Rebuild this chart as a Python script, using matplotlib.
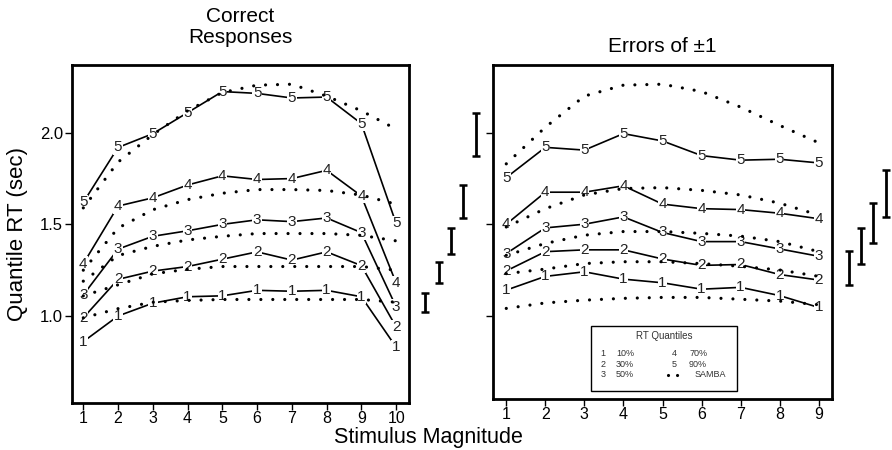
"""
Quantile RT by stimulus magnitude: correct responses vs errors of +-1, with SAMBA fits.
"""

import matplotlib
matplotlib.use("Agg")
import matplotlib.pyplot as plt
from matplotlib.patches import Rectangle

plt.rcParams['font.family'] = ['Liberation Sans', 'DejaVu Sans']
plt.rcParams['lines.scale_dashes'] = False

# ---- data: correct responses ----
x_correct = [1, 2, 3, 4, 5, 6, 7, 8, 9, 10]
correct_q1 = [0.86, 1.00, 1.07, 1.105, 1.11, 1.14, 1.135, 1.14, 1.105, 0.83]
correct_q2 = [0.99, 1.20, 1.245, 1.27, 1.31, 1.35, 1.305, 1.35, 1.275, 0.94]
correct_q3 = [1.115, 1.365, 1.435, 1.465, 1.50, 1.525, 1.515, 1.535, 1.455, 1.05]
correct_q4 = [1.285, 1.60, 1.645, 1.715, 1.765, 1.745, 1.75, 1.795, 1.655, 1.18]
correct_q5 = [1.62, 1.92, 1.995, 2.11, 2.225, 2.215, 2.19, 2.195, 2.05, 1.505]

samba_correct_1 = [0.99, 1.04, 1.075, 1.085, 1.09, 1.09, 1.09, 1.09, 1.09, 1.075]
samba_correct_2 = [1.11, 1.17, 1.23, 1.255, 1.27, 1.27, 1.27, 1.27, 1.27, 1.25]
samba_correct_3 = [1.19, 1.33, 1.38, 1.415, 1.435, 1.45, 1.45, 1.45, 1.44, 1.41]
samba_correct_4 = [1.25, 1.48, 1.58, 1.635, 1.67, 1.69, 1.69, 1.685, 1.66, 1.61]
samba_correct_5 = [1.59, 1.84, 1.99, 2.12, 2.22, 2.26, 2.265, 2.2, 2.12, 2.02]

# ---- data: errors of +-1 ----
x_error = [1, 2, 3, 4, 5, 6, 7, 8, 9]
error_q1 = [1.14, 1.215, 1.24, 1.20, 1.18, 1.145, 1.155, 1.11, 1.045]
error_q2 = [1.245, 1.35, 1.36, 1.36, 1.31, 1.275, 1.28, 1.225, 1.195]
error_q3 = [1.34, 1.48, 1.50, 1.54, 1.455, 1.405, 1.405, 1.365, 1.325]
error_q4 = [1.50, 1.675, 1.675, 1.71, 1.61, 1.585, 1.58, 1.56, 1.53]
error_q5 = [1.755, 1.92, 1.905, 1.995, 1.955, 1.875, 1.85, 1.855, 1.835]

samba_error_1 = [1.04, 1.07, 1.085, 1.095, 1.10, 1.10, 1.09, 1.08, 1.06]
samba_error_2 = [1.23, 1.255, 1.285, 1.295, 1.295, 1.285, 1.27, 1.25, 1.215]
samba_error_3 = [1.33, 1.395, 1.44, 1.46, 1.46, 1.45, 1.435, 1.405, 1.35]
samba_error_4 = [1.485, 1.585, 1.66, 1.695, 1.70, 1.685, 1.66, 1.615, 1.55]
samba_error_5 = [1.83, 2.03, 2.20, 2.26, 2.265, 2.225, 2.14, 2.04, 1.945]

# typical standard-error bars shown beside each panel
se_correct_mid = [1.073, 1.237, 1.41, 1.624, 1.99]
se_correct_half = [0.05, 0.059, 0.072, 0.091, 0.116]
se_error_mid = [1.26, 1.38, 1.506, 1.668]
se_error_half = [0.091, 0.098, 0.109, 0.126]

quantile_names = ["1", "2", "3", "4", "5"]
legend_rows = [("1", "10%", "4", "70%"), ("2", "30%", "5", "90%"), ("3", "50%", None, "SAMBA")]

# layout only (x positions of the SE bars, outside the axes)
se_correct_x = [10.83, 11.23, 11.57, 11.93, 12.31]
se_error_x = [9.77, 10.09, 10.39, 10.73]

W, H = 892, 450
fig = plt.figure(figsize=(W / 100, H / 100), dpi=100)
ax1 = fig.add_axes([72 / W, 1 - 403 / H, 337 / W, 338 / H])
ax2 = fig.add_axes([493 / W, 1 - 399 / H, 339 / W, 334 / H])

dot_style = (0, (0.01, 8.6))


def draw_panel(ax, xs, quantiles, sambas):
    for q, name in zip(quantiles, quantile_names):
        ax.plot(xs, q, color="black", lw=1.2, zorder=2)
        for xv, yv in zip(xs, q):
            ax.text(xv, yv, name, ha="center", va="center", fontsize=11,
                    color="#222222", zorder=3,
                    bbox=dict(facecolor="white", edgecolor="none", pad=0.3))
    for s in sambas:
        ax.plot(xs, s, color="black", lw=2.3, linestyle=dot_style,
                dash_capstyle="round", zorder=4)
    for sp in ax.spines.values():
        sp.set_linewidth(2.0)
    ax.tick_params(direction="out", length=5, width=1.0, labelsize=12,
                   colors="black", pad=1.5)
    ax.set_yticks([1.0, 1.5, 2.0])
    ax.set_xticks(xs)


draw_panel(ax1, x_correct, [correct_q1, correct_q2, correct_q3, correct_q4, correct_q5],
           [samba_correct_1, samba_correct_2, samba_correct_3, samba_correct_4, samba_correct_5])
ax1.set_xlim(0.675, 10.37)
ax1.set_ylim(0.525, 2.37)
ax1.set_yticklabels(["1.0", "1.5", "2.0"])
ax1.tick_params(axis="x", labelsize=11.5, pad=1)

draw_panel(ax2, x_error, [error_q1, error_q2, error_q3, error_q4, error_q5],
           [samba_error_1, samba_error_2, samba_error_3, samba_error_4, samba_error_5])
ax2.set_xlim(0.66, 9.34)
ax2.set_ylim(0.545, 2.37)
ax2.set_yticklabels([])
ax2.tick_params(axis="x", labelsize=11.5, pad=1)

# SE bars beside the panels
for ax, xs, mids, halves in [(ax1, se_correct_x, se_correct_mid, se_correct_half),
                             (ax2, se_error_x, se_error_mid, se_error_half)]:
    eb = ax.errorbar(xs, mids, yerr=halves, fmt="none", ecolor="black",
                     elinewidth=2.0, capsize=3.2, capthick=1.8)
    for artist in eb.lines[1] + eb.lines[2]:
        artist.set_clip_on(False)

# legend box drawn in the error panel
ax2.add_patch(Rectangle((0.29, 0.025), 0.43, 0.195, transform=ax2.transAxes,
                        facecolor="white", edgecolor="black", lw=1.0, zorder=5))
ax2.text(0.505, 0.19, "RT Quantiles", transform=ax2.transAxes, ha="center",
         va="center", fontsize=7, color="#333333", zorder=6)
row_y = [0.135, 0.103, 0.073]
for (k1, p1, k2, p2), ry in zip(legend_rows, row_y):
    ax2.text(0.325, ry, k1, transform=ax2.transAxes, ha="center", va="center",
             fontsize=6.5, color="#333333", zorder=6)
    ax2.text(0.39, ry, p1, transform=ax2.transAxes, ha="center", va="center",
             fontsize=6.5, color="#333333", zorder=6)
    if k2 is not None:
        ax2.text(0.535, ry, k2, transform=ax2.transAxes, ha="center", va="center",
                 fontsize=6.5, color="#333333", zorder=6)
        ax2.text(0.605, ry, p2, transform=ax2.transAxes, ha="center", va="center",
                 fontsize=6.5, color="#333333", zorder=6)
    else:
        ax2.plot([0.515, 0.55], [ry, ry], transform=ax2.transAxes, color="black",
                 lw=2.3, linestyle=(0, (0.01, 6.5)), dash_capstyle="round", zorder=6)
        ax2.text(0.64, ry, p2, transform=ax2.transAxes, ha="center", va="center",
                 fontsize=6.5, color="#333333", zorder=6)

# titles and axis labels
fig.text(240 / W, 1 - 27 / H, "Correct\nResponses", ha="center", va="center",
         fontsize=15, linespacing=1.15)
fig.text(662 / W, 1 - 46 / H, "Errors of \u00b11", ha="center", va="center", fontsize=15)
fig.text(18 / W, 1 - 234 / H, "Quantile RT (sec)", ha="center", va="center",
         rotation=90, fontsize=16)
fig.text(428 / W, 1 - 437 / H, "Stimulus Magnitude", ha="center", va="center", fontsize=15.5)

fig.savefig("out.png", dpi=100)
